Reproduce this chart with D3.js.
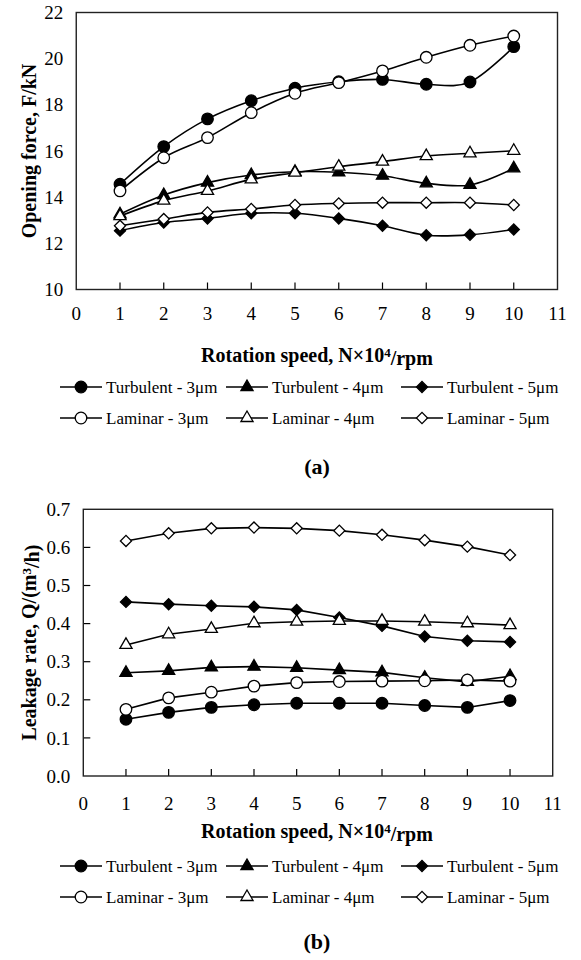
<!DOCTYPE html>
<html>
<head>
<meta charset="utf-8">
<script src="https://cdn.jsdelivr.net/npm/d3@7"></script>
<style>
  body { margin: 0; background: #fff; }
  svg text { font-family: "Liberation Serif", "Times New Roman", "DejaVu Serif", serif; }
</style>
</head>
<body>
<svg id="chart" width="581" height="960"></svg>
<script>
// rotation speed, N x 10^4 rpm
var speeds = [1, 2, 3, 4, 5, 6, 7, 8, 9, 10];

var seriesNames = ["Turbulent - 3\u03bcm", "Turbulent - 4\u03bcm", "Turbulent - 5\u03bcm",
                   "Laminar - 3\u03bcm", "Laminar - 4\u03bcm", "Laminar - 5\u03bcm"];

// (a) opening force, kN
var forceTurb3 = [14.56, 16.19, 17.39, 18.18, 18.72, 19.00, 19.10, 18.89, 18.99, 20.52];
var forceTurb4 = [13.26, 14.09, 14.63, 14.96, 15.10, 15.08, 14.93, 14.60, 14.53, 15.25];
var forceTurb5 = [12.55, 12.90, 13.08, 13.30, 13.30, 13.08, 12.76, 12.35, 12.37, 12.60];
var forceLam3  = [14.27, 15.71, 16.58, 17.66, 18.50, 18.96, 19.47, 20.06, 20.58, 20.98];
var forceLam4  = [13.18, 13.85, 14.27, 14.77, 15.06, 15.32, 15.54, 15.78, 15.90, 16.01];
var forceLam5  = [12.76, 13.05, 13.34, 13.49, 13.66, 13.73, 13.76, 13.76, 13.76, 13.66];

// (b) leakage rate, m3/h
var leakTurb3 = [0.149, 0.167, 0.180, 0.187, 0.191, 0.191, 0.191, 0.185, 0.180, 0.198];
var leakTurb4 = [0.271, 0.276, 0.285, 0.287, 0.284, 0.278, 0.272, 0.258, 0.247, 0.262];
var leakTurb5 = [0.457, 0.451, 0.447, 0.444, 0.436, 0.416, 0.394, 0.366, 0.355, 0.352];
var leakLam3  = [0.175, 0.205, 0.220, 0.236, 0.245, 0.248, 0.249, 0.250, 0.252, 0.249];
var leakLam4  = [0.344, 0.372, 0.386, 0.401, 0.405, 0.407, 0.407, 0.405, 0.401, 0.396];
var leakLam5  = [0.617, 0.637, 0.650, 0.652, 0.650, 0.644, 0.633, 0.619, 0.602, 0.580];

var xTicks = [0, 1, 2, 3, 4, 5, 6, 7, 8, 9, 10, 11];
var forceTicks = [10, 12, 14, 16, 18, 20, 22];
var leakTicks = [0, 0.1, 0.2, 0.3, 0.4, 0.5, 0.6, 0.7];

// marker look per series, same order as seriesNames
var markers = [
    { shape: "circle", fill: "#000" },
    { shape: "triangle", fill: "#000" },
    { shape: "diamond", fill: "#000" },
    { shape: "circle", fill: "#fff" },
    { shape: "triangle", fill: "#fff" },
    { shape: "diamond", fill: "#fff" }
];

var FONT = "'Liberation Serif', 'Times New Roman', 'DejaVu Serif', serif";
var svg = d3.select("#chart");

function markerPath(shape) {
    if (shape == "circle") return d3.symbol(d3.symbolCircle, 105)();
    if (shape == "triangle") return d3.symbol(d3.symbolTriangle, 64)();
    return d3.symbol(d3.symbolSquare, 62)();
}

function drawMarker(g, m, x, y) {
    g.append("path")
        .attr("d", markerPath(m.shape))
        .attr("transform", "translate(" + x + "," + y + ")" + (m.shape == "diamond" ? " rotate(45)" : ""))
        .style("fill", m.fill)
        .style("stroke", "#000")
        .style("stroke-width", 1.3);
}

function drawPanel(p) {
    var g = svg.append("g").attr("font-family", FONT);
    var x = d3.scaleLinear().domain([0, 11]).range([p.left, p.right]);
    var y = d3.scaleLinear().domain(p.yDomain).range([p.bottom, p.top]);

    // x ticks (inward, only at data positions)
    g.selectAll(".xtick").data(speeds).enter().append("line")
        .attr("x1", d => x(d)).attr("x2", d => x(d))
        .attr("y1", p.bottom).attr("y2", p.bottom - 7)
        .style("stroke", "#000").style("stroke-width", 1.2);

    if (p.yTickMarks) {
        g.selectAll(".ytick").data(p.yTicks.slice(1, -1)).enter().append("line")
            .attr("x1", p.left).attr("x2", p.left + 7)
            .attr("y1", d => y(d)).attr("y2", d => y(d))
            .style("stroke", "#000").style("stroke-width", 1.2);
    }

    // plot frame
    g.append("rect")
        .attr("x", p.left).attr("y", p.top)
        .attr("width", p.right - p.left).attr("height", p.bottom - p.top)
        .style("fill", "none").style("stroke", "#222").style("stroke-width", 1.4);

    // tick labels
    g.selectAll(".xlab").data(xTicks).enter().append("text")
        .attr("x", d => x(d)).attr("y", p.xLabelY).attr("dy", "0.35em")
        .attr("text-anchor", "middle").style("font-size", "19px")
        .text(d => d);
    g.selectAll(".ylab").data(p.yTicks).enter().append("text")
        .attr("x", p.left - 13).attr("y", d => y(d)).attr("dy", "0.35em")
        .attr("text-anchor", "end").style("font-size", "19px")
        .text(p.yFormat);

    // axis titles
    var xt = g.append("text")
        .attr("x", 317).attr("y", p.xTitleY).attr("dy", "0.35em")
        .attr("text-anchor", "middle")
        .style("font-size", "20px").style("font-weight", "bold");
    xt.append("tspan").text("Rotation speed, N\u00d710");
    xt.append("tspan").attr("dy", "-0.4em").style("font-size", "13px").text("4");
    xt.append("tspan").attr("dy", "0.4em").text("/rpm");

    var yt = g.append("text")
        .attr("transform", "translate(" + p.yTitleX + "," + ((p.top + p.bottom) / 2) + ") rotate(-90)")
        .attr("dy", "0.35em")
        .attr("text-anchor", "middle")
        .style("font-size", "20px").style("font-weight", "bold");
    p.yTitle(yt);

    // series
    var line = d3.line()
        .x((d, i) => x(speeds[i]))
        .y(d => y(d))
        .curve(p.curve);

    p.series.forEach(function (vals) {
        g.append("path")
            .attr("d", line(vals))
            .style("fill", "none").style("stroke", "#000").style("stroke-width", 1.6);
    });
    p.series.forEach(function (vals, k) {
        vals.forEach(function (v, i) {
            drawMarker(g, markers[k], x(speeds[i]), y(v));
        });
    });

    // legend
    var colX = [60, 226, 401];
    seriesNames.forEach(function (name, k) {
        var lx = colX[k % 3];
        var ly = p.legendY[Math.floor(k / 3)];
        g.append("line")
            .attr("x1", lx).attr("x2", lx + 42)
            .attr("y1", ly).attr("y2", ly)
            .style("stroke", "#000").style("stroke-width", 1.6);
        drawMarker(g, markers[k], lx + 21, ly);
        g.append("text")
            .attr("x", lx + 46).attr("y", ly).attr("dy", "0.35em")
            .style("font-size", "17px")
            .text(name);
    });

    // panel label
    g.append("text")
        .attr("x", 317).attr("y", p.tagY).attr("dy", "0.35em")
        .attr("text-anchor", "middle")
        .style("font-size", "22px").style("font-weight", "bold")
        .text(p.tag);
}

drawPanel({
    left: 76.25, right: 557.5, top: 12.5, bottom: 289.5,
    yDomain: [10, 22], yTicks: forceTicks, yTickMarks: false,
    yFormat: d => d,
    xLabelY: 313, xTitleY: 355, yTitleX: 29,
    legendY: [387, 418], tagY: 466, tag: "(a)",
    curve: d3.curveCardinal.tension(0),
    series: [forceTurb3, forceTurb4, forceTurb5, forceLam3, forceLam4, forceLam5],
    yTitle: function (t) { t.text("Opening force, F/kN"); }
});

drawPanel({
    left: 83.3, right: 552.7, top: 509.3, bottom: 776,
    yDomain: [0, 0.7], yTicks: leakTicks, yTickMarks: true,
    yFormat: d3.format(".1f"),
    xLabelY: 803, xTitleY: 831, yTitleX: 29,
    legendY: [866, 897], tagY: 941, tag: "(b)",
    curve: d3.curveLinear,
    series: [leakTurb3, leakTurb4, leakTurb5, leakLam3, leakLam4, leakLam5],
    yTitle: function (t) {
        t.append("tspan").text("Leakage rate, Q/(m");
        t.append("tspan").attr("dy", "-0.4em").style("font-size", "13px").text("3");
        t.append("tspan").attr("dy", "0.4em").text("/h)");
    }
});
</script>
</body>
</html>
